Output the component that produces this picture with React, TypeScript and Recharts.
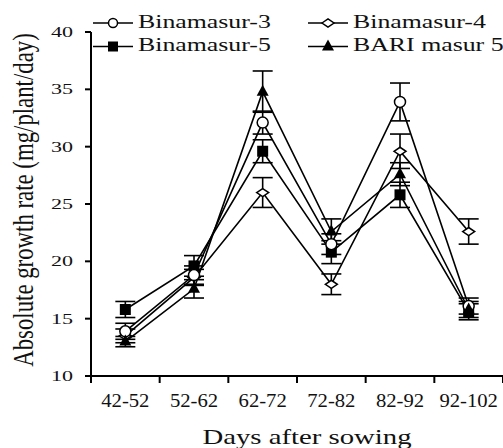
import { CartesianGrid, ErrorBar, Line, LineChart, XAxis, YAxis } from "recharts";

const categories = ["42-52", "52-62", "62-72", "72-82", "82-92", "92-102"];
const binamasur3 = [13.9, 18.8, 32.1, 21.5, 33.9, 16.1];
const binamasur3Err = [0.7, 0.8, 1.0, 0.9, 1.65, 0.7];
const binamasur4 = [13.5, 18.6, 26.0, 18.0, 29.6, 22.6];
const binamasur4Err = [0.6, 0.7, 1.3, 0.9, 1.5, 1.1];
const binamasur5 = [15.8, 19.6, 29.6, 20.8, 25.8, 15.6];
const binamasur5Err = [0.7, 0.9, 1.0, 1.0, 1.1, 0.7];
const bariMasur5 = [13.0, 17.6, 34.8, 22.6, 27.6, 15.8];
const bariMasur5Err = [0.45, 0.8, 1.8, 1.1, 1.0, 0.7];
const yTicks = [10, 15, 20, 25, 30, 35, 40];
const xBounds = [0, 1, 2, 3, 4, 5, 6];

const WIDTH = 503;
const HEIGHT = 448;
const AXIS_W = 91;
const STEP = (WIDTH - AXIS_W) / categories.length;
const FONT = "'Liberation Serif', 'Times New Roman', serif";

const data = categories.map((c, i) => ({
  x: i + 0.5,
  label: c,
  b3: binamasur3[i],
  b3e: binamasur3Err[i],
  b4: binamasur4[i],
  b4e: binamasur4Err[i],
  b5: binamasur5[i],
  b5e: binamasur5Err[i],
  bari: bariMasur5[i],
  barie: bariMasur5Err[i],
}));

function OpenCircle({ cx, cy, r = 5.5 }: any) {
  return <circle cx={cx} cy={cy} r={r} fill="#fff" stroke="#000" strokeWidth={1.5} />;
}
function OpenDiamond({ cx, cy, w = 6, h = 4 }: any) {
  return (
    <polygon
      points={`${cx - w},${cy} ${cx},${cy - h} ${cx + w},${cy} ${cx},${cy + h}`}
      fill="#fff"
      stroke="#000"
      strokeWidth={1.5}
    />
  );
}
function FilledSquare({ cx, cy, s = 11 }: any) {
  return <rect x={cx - s / 2} y={cy - s / 2} width={s} height={s} fill="#000" />;
}
function FilledTriangle({ cx, cy, s = 6 }: any) {
  return (
    <polygon
      points={`${cx},${cy - s - 1} ${cx + s},${cy + s - 2} ${cx - s},${cy + s - 2}`}
      fill="#000"
    />
  );
}

const dotFn = (Shape: any) => (props: any) =>
  props.cx == null ? null : <Shape key={`${props.dataKey}-${props.index}`} cx={props.cx} cy={props.cy} />;

function XTick({ x, y, payload }: any) {
  const v = payload.value;
  if (v >= categories.length) return null;
  return (
    <text
      transform={`translate(${x + STEP / 2},${y + 22}) scale(1.15,1)`}
      textAnchor="middle"
      fontFamily={FONT}
      fontSize={18}
      fill="#111"
    >
      {categories[v]}
    </text>
  );
}

function YTick({ x, y, payload }: any) {
  return (
    <text
      transform={`translate(${x - 10},${y + 5}) scale(1.47,1)`}
      textAnchor="end"
      fontFamily={FONT}
      fontSize={15}
      fill="#111"
    >
      {payload.value}
    </text>
  );
}

const legendItems = [
  { name: "Binamasur-3", Shape: OpenCircle, col: 0, row: 0, small: { r: 4.5 } },
  { name: "Binamasur-4", Shape: OpenDiamond, col: 1, row: 0, small: { w: 6, h: 4 } },
  { name: "Binamasur-5", Shape: FilledSquare, col: 0, row: 1, small: { s: 10 } },
  { name: "BARI masur 5", Shape: FilledTriangle, col: 1, row: 1, small: { s: 6 } },
];

function Overlay() {
  return (
    <svg
      width={WIDTH}
      height={HEIGHT}
      style={{ position: "absolute", left: 0, top: 0, pointerEvents: "none" }}
    >
      {legendItems.map((it) => {
        const x0 = it.col === 0 ? 93 : 308;
        const y0 = it.row === 0 ? 23 : 46.5;
        const S = it.Shape;
        return (
          <g key={it.name}>
            <line x1={x0} x2={x0 + 40} y1={y0} y2={y0} stroke="#000" strokeWidth={1.6} />
            <S cx={x0 + 20} cy={y0} {...it.small} />
            <text
              transform={`translate(${x0 + 45},${y0 + 4.5}) scale(1.36,1)`}
              fontFamily={FONT}
              fontSize={19}
              fill="#111"
            >
              {it.name}
            </text>
          </g>
        );
      })}
      <text
        transform="translate(33,200) scale(1.25,1) rotate(-90)"
        textAnchor="middle"
        fontFamily={FONT}
        fontSize={22.8}
        fill="#111"
      >
        Absolute growth rate (mg/plant/day)
      </text>
      <text
        transform="translate(307,444) scale(1.37,1)"
        textAnchor="middle"
        fontFamily={FONT}
        fontSize={21}
        fill="#111"
      >
        Days after sowing
      </text>
    </svg>
  );
}

const series = [
  { key: "b4", err: "b4e", Shape: OpenDiamond },
  { key: "b5", err: "b5e", Shape: FilledSquare },
  { key: "b3", err: "b3e", Shape: OpenCircle },
  { key: "bari", err: "barie", Shape: FilledTriangle },
];

export default function App() {
  return (
    <div style={{ position: "absolute", left: 0, top: 0, width: WIDTH, height: HEIGHT, background: "#fff" }}>
      <LineChart
        width={WIDTH}
        height={HEIGHT}
        data={data}
        margin={{ top: 32, right: 0, bottom: 42, left: 0 }}
      >
        <CartesianGrid stroke="none" />
        <XAxis
          dataKey="x"
          type="number"
          domain={[0, 6]}
          ticks={xBounds}
          interval={0}
          height={30}
          tick={<XTick />}
          tickSize={7}
          axisLine={{ stroke: "#000", strokeWidth: 2 }}
          tickLine={{ stroke: "#000", strokeWidth: 2 }}
        />
        <YAxis
          type="number"
          domain={[10, 40]}
          ticks={yTicks}
          interval={0}
          width={AXIS_W}
          tick={<YTick />}
          tickSize={6}
          axisLine={{ stroke: "#000", strokeWidth: 2 }}
          tickLine={{ stroke: "#000", strokeWidth: 2 }}
        />
        {series.map((s) => (
          <Line
            key={s.key}
            dataKey={s.key}
            type="linear"
            stroke="#000"
            strokeWidth={1.6}
            dot={dotFn(s.Shape)}
            activeDot={false}
            isAnimationActive={false}
          >
            <ErrorBar dataKey={s.err} width={10} stroke="#000" strokeWidth={1.6} direction="y" />
          </Line>
        ))}
      </LineChart>
      <Overlay />
    </div>
  );
}
